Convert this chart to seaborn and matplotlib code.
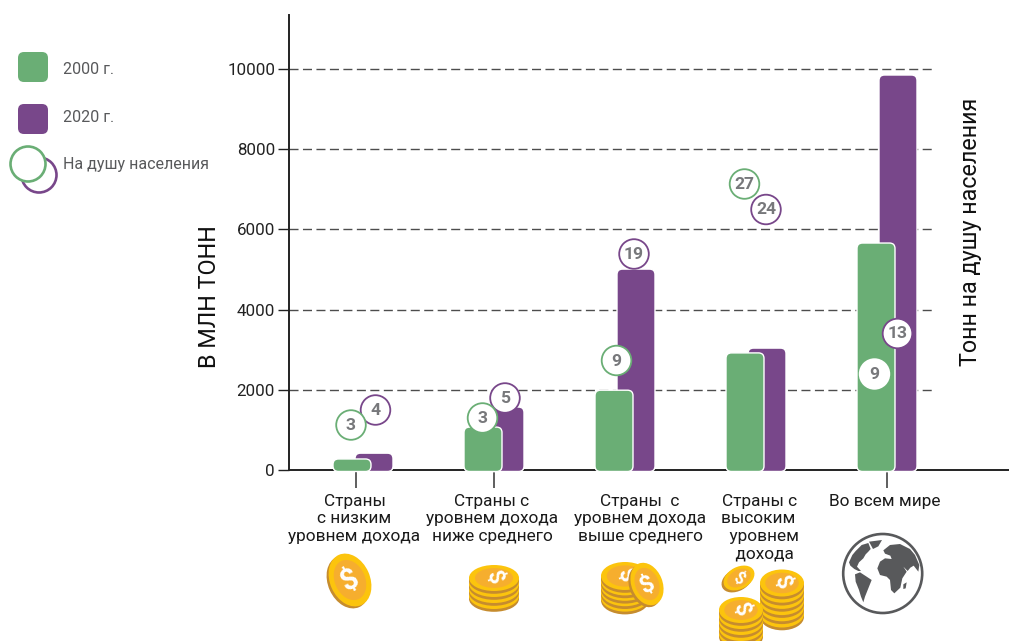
import numpy as np
import pandas as pd
import matplotlib
matplotlib.use("Agg")
import matplotlib.pyplot as plt
from matplotlib.patches import Circle, Ellipse, FancyBboxPatch, Polygon
import seaborn as sns

# ---- data ----
categories = [
    "Страны\nс низким\nуровнем дохода",
    "Страны с\nуровнем дохода\nниже среднего",
    "Страны  с\nуровнем дохода\nвыше среднего",
    "Страны с\nвысоким \n  уровнем\n  дохода",
    "Во всем мире",
]
tonnes_2000 = [275, 1070, 1990, 2920, 5660]
tonnes_2020 = [420, 1570, 5010, 3040, 9850]
per_capita_2000 = [3, 3, 9, 27, 9]
per_capita_2020 = [4, 5, 19, 24, 13]
y_ticks = [0, 2000, 4000, 6000, 8000, 10000]
series_labels = ["2000 г.", "2020 г.", "На душу населения"]

# ---- style ----
GREEN = "#6aae75"
PURPLE = "#78478a"
TEXT_GREY = "#58595b"
BUBBLE_GREY = "#77787b"
W, H = 1009, 641

sns.set_style("white")
plt.rcParams["font.family"] = ["Roboto", "DejaVu Sans"]

fig = plt.figure(figsize=(W / 100, H / 100), dpi=100, facecolor="white")

# plot frame in pixels
AX_L, AX_R, AX_T, AX_B = 289, 1009, 15, 470
ax = fig.add_axes([AX_L / W, 1 - AX_B / H, (AX_R - AX_L) / W, (AX_B - AX_T) / H])

# canvas in pixel units for legend, icons and free-standing labels
ov = fig.add_axes([0, 0, 1, 1], zorder=5)
ov.set_xlim(0, W)
ov.set_ylim(H, 0)
ov.axis("off")
ov.patch.set_alpha(0)

PX_PER_CAT = 131
PX_PER_UNIT = 401 / 10000
groups = np.arange(len(categories))
frame = pd.DataFrame({"pos": groups, "y2000": tonnes_2000, "y2020": tonnes_2020})
bar_shift = 11 / PX_PER_CAT
bar_width = 38 / PX_PER_CAT


def draw_series(column, shift, color):
    """Draw one series with seaborn, then round the corners of its new bars."""
    before = len(ax.patches)
    sns.barplot(x=frame["pos"] + shift, y=frame[column], ax=ax, native_scale=True,
                width=bar_width, color=color, saturation=1, errorbar=None)
    for rect in list(ax.patches[before:]):
        x0, y0, w, h = rect.get_x(), rect.get_y(), rect.get_width(), rect.get_height()
        rect.remove()
        drop = 1.5 / PX_PER_UNIT
        ax.add_patch(FancyBboxPatch(
            (x0, y0 - drop), w, h + drop,
            boxstyle=f"round,pad=0,rounding_size={5.5 / PX_PER_CAT}",
            mutation_aspect=(1 / PX_PER_UNIT) / (1 / PX_PER_CAT),
            facecolor=color, edgecolor="white", linewidth=1.0,
            zorder=3, clip_on=False))


draw_series("y2020", bar_shift, PURPLE)
draw_series("y2000", -bar_shift, GREEN)

ax.set_xlim((AX_L - 363) / PX_PER_CAT, (AX_R - 363) / PX_PER_CAT)
ax.set_ylim(0, (AX_B - AX_T) / PX_PER_UNIT)
ax.set_xlabel("")
ax.set_ylabel("")

# only the first, second and last groups carry a tick
ax.set_xticks([-7 / PX_PER_CAT, 1, 4])
ax.set_xticklabels([])
ax.tick_params(axis="x", length=13, width=1.1, color="#333333", bottom=True)
ax.set_yticks(y_ticks)
ax.tick_params(axis="y", length=8, width=1.0, color="#222222", left=True,
               labelsize=12.2, pad=2, labelcolor="#222222")

for side in ("top", "right"):
    ax.spines[side].set_visible(False)
for side in ("left", "bottom"):
    ax.spines[side].set_visible(True)
    ax.spines[side].set_color("#222222")
    ax.spines[side].set_linewidth(1.4)

# dashed guides stop short of the right edge
grid_end = (935 - AX_L) / (AX_R - AX_L)
for tick in y_ticks[1:]:
    ax.plot([0, grid_end], [tick, tick], transform=ax.get_yaxis_transform(),
            color="#4d4d4d", lw=1.0, dashes=(6.5, 3.2), zorder=1)

# axis titles
ov.text(209, 297, "В МЛН ТОНН", rotation=90, ha="center", va="center",
        fontsize=16.8, color="#111111")
ov.text(971, 232, "Тонн на душу населения", rotation=90, ha="center", va="center",
        fontsize=16.8, color="#111111")

# category labels
label_x = [354.5, 492, 640, 760, 885]
for lx, label in zip(label_x, categories):
    ov.text(lx, 494, label, ha="center", va="top", fontsize=12.4, color="#1a1a1a",
            linespacing=1.2)

# per-capita bubbles
green_spots = [(351, 425), (482.5, 418), (616.5, 360.5), (744.5, 184), (874.5, 374)]
purple_spots = [(375.5, 410), (505, 398), (634, 254), (766, 209.5), (897.5, 333.5)]


def bubble(center, value, edge, z=6):
    ov.add_patch(Circle(center, 14.8, facecolor="white", edgecolor=edge, lw=1.3, zorder=z))
    ov.text(center[0], center[1] + 0.5, str(value), ha="center", va="center",
            fontsize=12.6, fontweight="bold", color=BUBBLE_GREY, zorder=z + 1)


for spot, value in zip(purple_spots, per_capita_2020):
    bubble(spot, value, PURPLE)
for i, (spot, value) in enumerate(zip(green_spots, per_capita_2000)):
    bubble(spot, value, "white" if i == 4 else GREEN)

# legend
for top, color, text, ty in ((52, GREEN, series_labels[0], 69), (104, PURPLE, series_labels[1], 117)):
    ov.add_patch(FancyBboxPatch((18, top), 30, 30, boxstyle="round,pad=0,rounding_size=6",
                                facecolor=color, edgecolor="none"))
    ov.text(63, ty, text, va="center", ha="left", fontsize=11.5, color=TEXT_GREY)
ov.add_patch(Circle((39, 175), 17.5, facecolor="white", edgecolor=PURPLE, lw=1.9))
ov.add_patch(Circle((28, 164), 17.5, facecolor="white", edgecolor=GREEN, lw=1.9))
ov.text(63, 165, series_labels[2], va="center", ha="left", fontsize=11.5, color=TEXT_GREY)

# ---- coin icons ----
GOLD = "#fcc40d"
DARK_GOLD = "#c68c2e"
FACE = "#f6ae2e"


def coin_stack(cx, top_y, rx, ry, layers, step, sign_size=16):
    for i in range(layers, -1, -1):
        y = top_y + i * step
        ov.add_patch(Ellipse((cx, y + 2.8), 2 * rx, 2 * ry, facecolor=DARK_GOLD, edgecolor="none"))
        ov.add_patch(Ellipse((cx, y), 2 * rx, 2 * ry, facecolor=GOLD, edgecolor="none"))
    ov.add_patch(Ellipse((cx, top_y), 2 * rx * 0.76, 2 * ry * 0.76, facecolor=FACE, edgecolor="none"))
    ov.text(cx, top_y, "$", rotation=-68, ha="center", va="center", color="white",
            fontsize=sign_size, fontweight="bold", parse_math=False)


def tilted_coin(cx, cy, width, height, angle, sign_rot, sign_size=15, z=2):
    ov.add_patch(Ellipse((cx - 2, cy + 2), width, height, angle=angle, facecolor=DARK_GOLD,
                         edgecolor="none", zorder=z))
    ov.add_patch(Ellipse((cx, cy), width, height, angle=angle, facecolor=GOLD,
                         edgecolor="none", zorder=z))
    ov.add_patch(Ellipse((cx, cy), width * 0.76, height * 0.76, angle=angle, facecolor=FACE,
                         edgecolor="none", zorder=z))
    ov.text(cx, cy, "$", rotation=sign_rot, ha="center", va="center", color="white",
            fontsize=sign_size, fontweight="bold", parse_math=False, zorder=z)


tilted_coin(350, 580, 40, 55, -24, 28, 21)
coin_stack(494, 578, 25, 13, 3, 6)
coin_stack(625, 576, 24, 14, 4, 5.4)
tilted_coin(647, 584, 31, 44, -22, 28, 17, z=3)
tilted_coin(739, 578, 33, 22, -28, -35, 12)
coin_stack(782, 583, 22, 13.5, 5, 6.2)
coin_stack(741, 610, 22, 13, 4, 6)

# ---- globe icon ----
GLOBE_C = (882.7, 573.5)
GLOBE_GREY = "#58595b"
GLOBE_SCALE = 1 / 3
land_shapes = [
    # North and Central America
    [(42, 112), (52, 90), (62, 78), (80, 60), (100, 54), (107, 72), (100, 80), (92, 88),
     (85, 100), (72, 112), (66, 125), (78, 138), (70, 138), (58, 132), (46, 122)],
    # Greenland
    [(102, 50), (141, 45), (130, 64), (114, 72)],
    # South America
    [(60, 148), (75, 142), (95, 155), (110, 165), (100, 190), (90, 215), (85, 232),
     (78, 215), (72, 195), (62, 170)],
    # Eurasia and Africa
    [(145, 76), (165, 60), (195, 57), (225, 72), (240, 90), (253, 120), (250, 140),
     (236, 122), (226, 128), (218, 138), (205, 125), (215, 140), (202, 160), (196, 188),
     (178, 205), (168, 195), (165, 165), (155, 155), (135, 150), (127, 130), (135, 110),
     (150, 100), (170, 102), (166, 92), (150, 86)],
    # Madagascar
    [(205, 178), (215, 172), (212, 190), (205, 192)],
]
ov.add_patch(Circle(GLOBE_C, 39.5, facecolor="white", edgecolor=GLOBE_GREY, lw=1.9))
for shape in land_shapes:
    pts = [(835 + x * GLOBE_SCALE, 525 + y * GLOBE_SCALE) for x, y in shape]
    ov.add_patch(Polygon(pts, closed=True, facecolor=GLOBE_GREY, edgecolor="none", joinstyle="round"))

fig.savefig("out.png", dpi=100, facecolor="white")
